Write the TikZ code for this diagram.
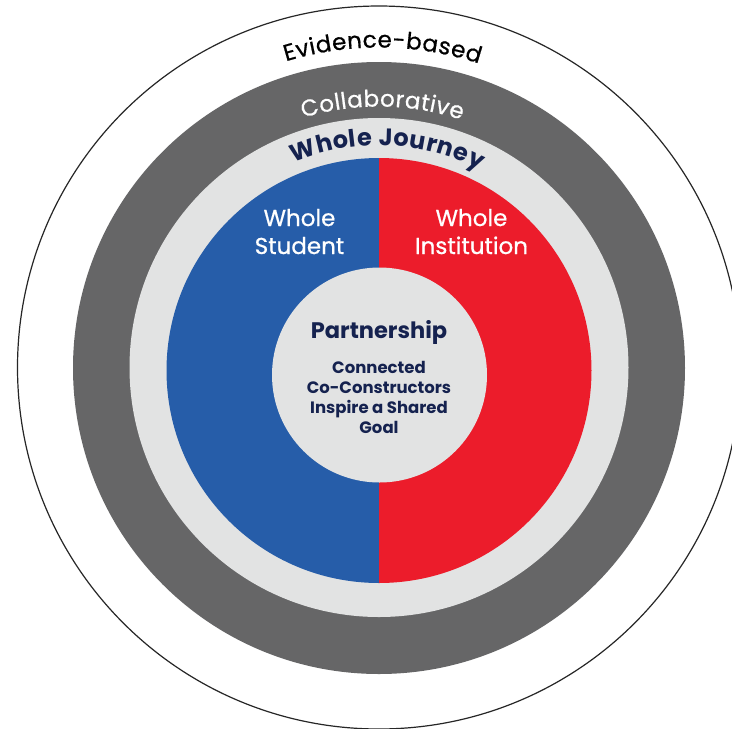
\documentclass[tikz,border=0pt]{standalone}
\usepackage{fontspec}
\setmainfont{Poppins}
\newfontfamily\medfont{Poppins}[FakeBold=0.7]
\usetikzlibrary{decorations.text}
\definecolor{cblue}{HTML}{265DA9}
\definecolor{cred}{HTML}{EC1C2B}
\definecolor{cdark}{HTML}{666667}
\definecolor{clight}{HTML}{E2E3E3}
\definecolor{cnavy}{HTML}{15224F}
\tikzset{
  lbl/.style={anchor=base, inner sep=0pt, text=white, font=\medfont\fontsize{23}{27}\selectfont},
  ptxt/.style={anchor=base, inner sep=0pt, text=cnavy, font=\bfseries\fontsize{16.5}{19}\selectfont},
}
\begin{document}
\begin{tikzpicture}[x=1pt,y=1pt]
\path[use as bounding box, fill=white] (0,0) rectangle (732,-729);
\coordinate (C) at (379,-367.5);
\coordinate (D) at (379,-370.5);
\coordinate (P) at (379.5,-375);
% outer thin circle
\draw[line width=1.2pt, black!85] (C) circle[radius=361.5];
% dark gray band
\fill[cdark] (379,-368) circle[radius=306];
% light gray band
\fill[clight] (379,-367.5) circle[radius=249.5];
% blue and red halves
\fill[cblue] (D) ++(0,212.5) arc[start angle=90, end angle=270, radius=212.5] -- cycle;
\fill[cred] (D) ++(0,212.5) arc[start angle=90, end angle=-90, radius=212.5] -- cycle;
% inner circle
\fill[clight] (P) circle[radius=107.5];
% curved labels
\path[decorate, decoration={text along path, text align={fit to path}, text color=black,
  text={|\medfont\fontsize{23}{27}\selectfont|Evidence-based}}]
  (C) ++(106.9:320) arc[start angle=106.9, end angle=71.8, radius=320];
\path[decorate, decoration={text along path, text align={fit to path}, text color=white,
  text={|\medfont\fontsize{23}{27}\selectfont|Collaborative}}]
  (C) ++(106.9:261) arc[start angle=106.9, end angle=71.6, radius=261];
\path[decorate, decoration={text along path, text align={fit to path}, text color=cnavy,
  text={|\bfseries\fontsize{24}{28}\selectfont|Whole Journey}}]
  (C) ++(112.6:222) arc[start angle=112.6, end angle=63, radius=222];
% half labels
\node[lbl] (ws1) at (299.5,-226) {Whole};
\node[lbl] (ws2) at (299.5,-254) {Student};
\node[lbl] (wi1) at (471.5,-226) {Whole};
\node[lbl] (wi2) at (471.5,-254) {Institution};
% partnership
\node[anchor=base, inner sep=0pt, text=cnavy, font=\bfseries\fontsize{22.5}{26}\selectfont] (pt) at (379,-338) {Partnership};
\node[ptxt] (p1) at (379,-373) {Connected};
\node[ptxt] (p2) at (379,-393) {Co-Constructors};
\node[ptxt] (p3) at (379,-413) {Inspire a Shared};
\node[ptxt] (p4) at (379,-433) {Goal};
\end{tikzpicture}
\end{document}
